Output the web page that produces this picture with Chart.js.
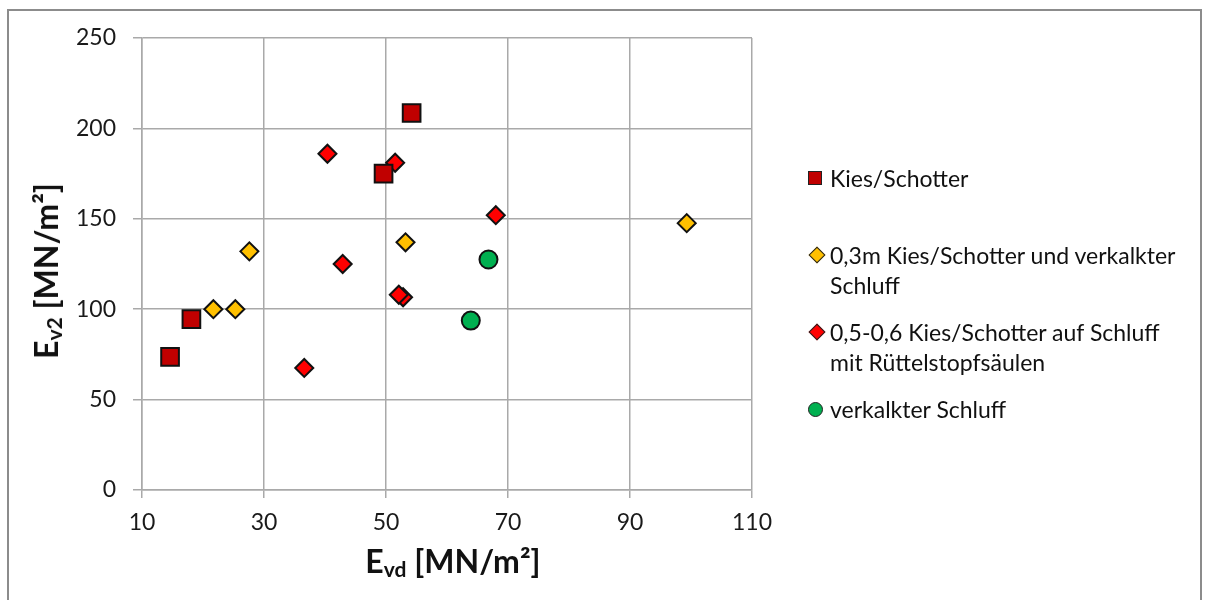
<!DOCTYPE html>
<html>
<head>
<meta charset="utf-8">
<script src="https://cdn.jsdelivr.net/npm/chart.js@4/dist/chart.umd.min.js"></script>
<style>
  html, body { margin: 0; padding: 0; background: #fff; }
  #wrap { position: relative; width: 1207px; height: 600px; overflow: hidden; font-family: Lato, 'Open Sans', sans-serif; }
  #frame { position: absolute; left: 7px; top: 9px; width: 1195px; height: 620px; border: 2px solid #8c8c8c; box-sizing: border-box; }
  canvas { position: absolute; left: 0; top: 0; }
  .axis-title { position: absolute; font-weight: bold; font-size: 32px; color: #111; white-space: nowrap; line-height: 1; }
  .axis-title sub { font-size: 21px; vertical-align: -4px; }
  #xTitle { left: 453px; top: 562px; transform: translate(-50%, -50%); }
  #yTitle { left: 47px; top: 271px; transform: translate(-50%, -50%) rotate(-90deg); }
  .legend-item { position: absolute; left: 830px; font-size: 23px; line-height: 30px; color: #111; white-space: pre-line; }
  .legend-mark { position: absolute; left: -22px; top: 8px; width: 14px; height: 14px; box-sizing: border-box; border: 1.5px solid #222; }
</style>
</head>
<body>
<div id="wrap">
  <div id="frame"></div>
  <canvas id="scatterChart" width="1207" height="600"></canvas>
  <div id="yTitle" class="axis-title">E<sub>v2</sub> [MN/m²]</div>
  <div id="xTitle" class="axis-title">E<sub>vd</sub> [MN/m²]</div>
  <div id="legend"></div>
</div>
<script>
/* ─── Data: Evd (x) / Ev2 (y) in MN/m² ──────────── */
const seriesNames = [
  'Kies/Schotter',
  '0,3m Kies/Schotter und verkalkter\nSchluff',
  '0,5-0,6 Kies/Schotter auf Schluff\nmit Rüttelstopfsäulen',
  'verkalkter Schluff'
];

const gravelEvd = [14.6, 18.1, 49.6, 54.2];
const gravelEv2 = [73.6, 94.5, 175, 208.5];

const thinLayerEvd = [21.7, 25.3, 27.6, 53.2, 99.3];
const thinLayerEv2 = [100, 100, 132, 137, 147.6];

const stoneColEvd = [36.6, 40.4, 42.9, 51.5, 52.8, 52.1, 68.0];
const stoneColEv2 = [67.5, 186, 125, 181, 106.6, 108, 152];

const siltEvd = [63.9, 66.8];
const siltEv2 = [93.7, 127.5];

const xTicks = [10, 30, 50, 70, 90, 110];
const yTicks = [0, 50, 100, 150, 200, 250];

/* ─── Styles ────────────────────────────────────── */
const colors  = ['#C00000', '#FFC000', '#FF0000', '#00B050'];
const shapes  = ['rect', 'rectRot', 'rectRot', 'circle'];
const radii   = [12.5, 9, 9, 9];
const gridCol = '#a9a9a9';

Chart.defaults.font.family = "Lato, 'Open Sans', sans-serif";
Chart.defaults.color       = '#1a1a1a';

const toPoints = (xs, ys) => xs.map((x, i) => ({ x, y: ys[i] }));
const seriesData = [
  toPoints(gravelEvd, gravelEv2),
  toPoints(thinLayerEvd, thinLayerEv2),
  toPoints(stoneColEvd, stoneColEv2),
  toPoints(siltEvd, siltEv2)
];

/* ─── Scatter chart ─────────────────────────────── */
new Chart(document.getElementById('scatterChart').getContext('2d'), {
  type: 'scatter',
  data: {
    datasets: seriesData.map((pts, i) => ({
      label:           seriesNames[i],
      data:            pts,
      pointStyle:      shapes[i],
      pointRadius:     radii[i],
      backgroundColor: colors[i],
      borderColor:     '#111',
      borderWidth:     2
    }))
  },
  options: {
    responsive: false,
    animation:  false,
    events:     [],
    layout: { padding: { top: 38, right: 455, left: 0, bottom: 0 } },
    plugins: {
      legend:  { display: false },
      tooltip: { enabled: false }
    },
    scales: {
      x: {
        type: 'linear',
        min: xTicks[0], max: xTicks[xTicks.length - 1],
        afterBuildTicks: s => { s.ticks = xTicks.map(v => ({ value: v })); },
        afterFit: s => { s.height = 110; },
        grid:   { color: gridCol, lineWidth: 1.5, tickLength: 8 },
        border: { color: gridCol, width: 1.5 },
        ticks:  { font: { size: 23 }, padding: 11 }
      },
      y: {
        min: yTicks[0], max: yTicks[yTicks.length - 1],
        afterBuildTicks: s => { s.ticks = yTicks.map(v => ({ value: v })); },
        afterFit: s => { s.width = 142; },
        grid:   { color: gridCol, lineWidth: 1.5, tickLength: 9 },
        border: { color: gridCol, width: 1.5 },
        ticks:  { font: { size: 23 }, padding: 17 }
      }
    }
  }
});

/* ─── Legend ────────────────────────────────────── */
const legendTops = [163, 240, 317, 394];
const legend = document.getElementById('legend');
seriesNames.forEach((name, i) => {
  const item = document.createElement('div');
  item.className = 'legend-item';
  item.style.top = legendTops[i] + 'px';
  const mark = document.createElement('span');
  mark.className = 'legend-mark';
  mark.style.background = colors[i];
  if (shapes[i] === 'rectRot') {
    mark.style.width = mark.style.height = '12px';
    mark.style.left = '-19px';
    mark.style.top = '9px';
    mark.style.transform = 'rotate(45deg)';
  } else if (shapes[i] === 'circle') {
    mark.style.borderRadius = '50%';
    mark.style.width = mark.style.height = '15px';
  }
  item.appendChild(mark);
  item.appendChild(document.createTextNode(name));
  legend.appendChild(item);
});
</script>
</body>
</html>
